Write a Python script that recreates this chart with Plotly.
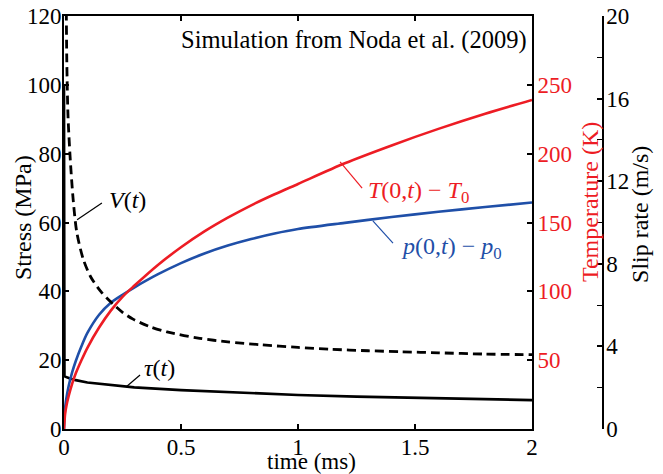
import plotly.graph_objects as go

# ---- data ----
t_p = [0, 0.005, 0.01, 0.02, 0.035, 0.05, 0.075, 0.1, 0.15, 0.2, 0.25, 0.3, 0.4, 0.5,
       0.6, 0.7, 0.8, 0.9, 1.0, 1.2, 1.4, 1.6, 1.8, 2.0]
p_vals = [0, 6.3, 8.9, 12.5, 16.5, 19.7, 24.1, 27.9, 33.2, 36.7, 39.0, 41.1, 44.9, 48.2,
          51.0, 53.3, 55.2, 56.8, 58.1, 59.9, 61.6, 63.1, 64.5, 65.8]

t_T = [0, 0.005, 0.01, 0.02, 0.035, 0.05, 0.075, 0.1, 0.15, 0.2, 0.25, 0.3, 0.4, 0.5,
       0.6, 0.7, 0.8, 0.9, 1.0, 1.2, 1.4, 1.6, 1.8, 2.0]
T_vals = [0, 11.4, 16.6, 24, 33, 40.3, 50.1, 59, 73.7, 86, 96, 104, 119, 132,
          143.5, 153.5, 162.5, 170.5, 178, 193, 206, 218, 229, 239]

t_tau = [0, 0.002, 0.02, 0.05, 0.1, 0.2, 0.3, 0.5, 0.75, 1.0, 1.25, 1.5, 1.75, 2.0]
tau_vals = [100, 15.3, 14.8, 14.2, 13.5, 12.7, 12.1, 11.3, 10.5, 9.9, 9.4, 9.0, 8.7, 8.4]

t_V = [0.006, 0.009, 0.012, 0.017, 0.026, 0.04, 0.055, 0.083, 0.115, 0.158, 0.205, 0.25,
       0.295, 0.368, 0.44, 0.58, 0.7, 0.84, 1.0, 1.14, 1.3, 1.44, 1.6, 1.79, 2.0]
V_vals = [27, 21.5, 17.8, 15.2, 13.2, 11.0, 9.5, 8.2, 7.35, 6.65, 6.1, 5.65,
          5.32, 4.95, 4.7, 4.39, 4.22, 4.08, 3.95, 3.86, 3.79, 3.74, 3.69, 3.63, 3.6]

stress_ticks = [0, 20, 40, 60, 80, 100, 120]
temp_ticks = [50, 100, 150, 200, 250]
slip_ticks = [0, 4, 8, 12, 16, 20]
time_ticks = [0, 0.5, 1, 1.5, 2]
time_labels = ["0", "0.5", "1", "1.5", "2"]

RED = "#ED1C24"
BLUE = "#1F4FA8"
FONT = "Liberation Serif"
TFS = 23   # tick font size
LFS = 24   # label font size

fig = go.Figure()
fig.add_trace(go.Scatter(x=t_V, y=V_vals, yaxis="y3", mode="lines",
                         line=dict(color="black", width=2.8, dash="9px,5px",
                                   shape="spline", smoothing=0.8)))
fig.add_trace(go.Scatter(x=t_tau, y=tau_vals, yaxis="y", mode="lines",
                         line=dict(color="black", width=2.6)))
fig.add_trace(go.Scatter(x=t_T, y=T_vals, yaxis="y2", mode="lines",
                         line=dict(color=RED, width=2.6, shape="spline", smoothing=0.8)))
fig.add_trace(go.Scatter(x=t_p, y=p_vals, yaxis="y", mode="lines",
                         line=dict(color=BLUE, width=2.6, shape="spline", smoothing=0.8)))

xdom = 468 / 539

fig.update_layout(
    width=663, height=474,
    margin=dict(l=64, r=60, t=16, b=45, autoexpand=False),
    paper_bgcolor="white", plot_bgcolor="white",
    showlegend=False,
    font=dict(family=FONT, size=TFS, color="black"),
    xaxis=dict(domain=[0, xdom], range=[0, 2], tickvals=time_ticks, ticktext=time_labels,
               ticks="inside", ticklen=5, tickwidth=1.5, tickcolor="black",
               showline=True, linecolor="black", linewidth=2, mirror="ticks",
               showgrid=False, zeroline=False, automargin=False, ticklabelstandoff=-4,
               tickfont=dict(family=FONT, size=TFS)),
    yaxis=dict(range=[0, 120], tickvals=stress_ticks, ticks="inside", ticklen=5,
               tickwidth=1.5, tickcolor="black", showline=True, linecolor="black",
               linewidth=2, showgrid=False, zeroline=False, automargin=False,
               ticklabelstandoff=-4,
               tickfont=dict(family=FONT, size=TFS)),
    yaxis2=dict(range=[0, 300], tickvals=temp_ticks, overlaying="y", side="right",
                anchor="x", ticks="inside", ticklen=5, tickwidth=1.5, tickcolor="black",
                showline=True, linecolor="black", linewidth=2, showgrid=False,
                zeroline=False, automargin=False, ticklabelstandoff=-1,
                tickfont=dict(family=FONT, size=TFS, color=RED)),
    yaxis3=dict(range=[0, 20], tickvals=slip_ticks, overlaying="y", side="right",
                anchor="free", position=1.0, ticks="inside", ticklen=5, tickwidth=1.5,
                tickcolor="black", showline=True, linecolor="black", linewidth=1.5,
                showgrid=False, zeroline=False, automargin=False, ticklabelstandoff=-2,
                tickfont=dict(family=FONT, size=TFS),
                minor=dict(dtick=2, ticks="inside", ticklen=5, tickwidth=1.2, tickcolor="black")),
)

# axis titles
titles = [
    dict(x=0.4601, y=-0.0790, text="time (ms)", textangle=0, color="black", size=LFS - 1),
    dict(x=-0.0761, y=0.5133, text="Stress (MPa)", textangle=-90, color="black", size=LFS),
    dict(x=0.9759, y=0.5496, text="Temperature (K)", textangle=-90, color=RED, size=LFS),
    dict(x=1.0686, y=0.5206, text="Slip rate (m/s)", textangle=-90, color="black", size=LFS),
]
for a in titles:
    fig.add_annotation(xref="paper", yref="paper", x=a["x"], y=a["y"], text=a["text"],
                       textangle=a["textangle"], showarrow=False, xanchor="center",
                       yanchor="middle", font=dict(family=FONT, size=a["size"], color=a["color"]))

annos = [
    dict(x=1.987, y=113, text="Simulation from Noda et al. (2009)", xanchor="right",
         font=dict(family=FONT, size=LFS + 0.5, color="black")),
    dict(x=0.271, y=66.6, text="<i>V</i>(<i>t</i>)", xanchor="center",
         font=dict(family=FONT, size=LFS)),
    dict(x=0.406, y=17.7, text="<i>τ</i>(<i>t</i>)", xanchor="center",
         font=dict(family=FONT, size=LFS)),
    dict(x=1.517, y=69.0, text="<i>T</i>(0,<i>t</i>) − <i>T</i><sub>0</sub>",
         xanchor="center", font=dict(family=FONT, size=LFS, color=RED)),
    dict(x=1.657, y=52.5, text="<i>p</i>(0,<i>t</i>) − <i>p</i><sub>0</sub>",
         xanchor="center", font=dict(family=FONT, size=LFS, color=BLUE)),
]
for a in annos:
    fig.add_annotation(xref="x", yref="y", showarrow=False, yanchor="middle", **a)

leaders = [
    (0.056, 60.8, 0.162, 65.7, "black"),
    (0.265, 12.2, 0.325, 15.7, "black"),
    (1.18, 77.6, 1.274, 70.0, RED),
    (1.32, 60.5, 1.406, 54.0, BLUE),
]
for x0, y0, x1, y1, c in leaders:
    fig.add_shape(type="line", xref="x", yref="y", x0=x0, y0=y0, x1=x1, y1=y1,
                  line=dict(color=c, width=1.2))

fig.write_html("out.html", config={"displayModeBar": False},
               post_script="document.body.style.margin='0px';")
